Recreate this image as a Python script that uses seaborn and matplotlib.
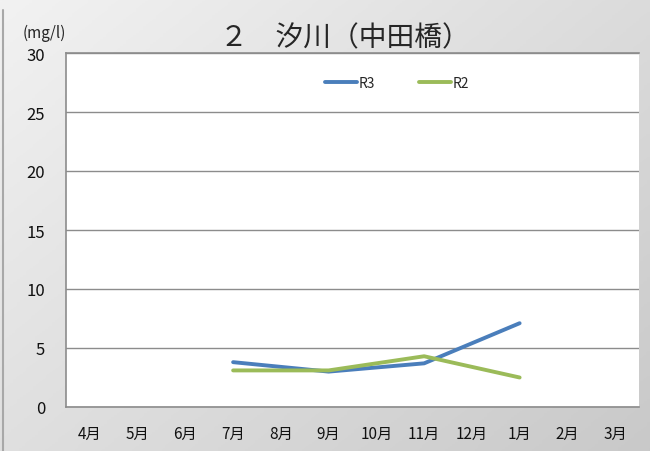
import numpy as np
import pandas as pd
import matplotlib
matplotlib.use("Agg")
import matplotlib.pyplot as plt
import seaborn as sns

# データ
months = ['4月', '5月', '6月', '7月', '8月', '9月', '10月', '11月', '12月', '1月', '2月', '3月']
obs_months = ['7月', '9月', '11月', '1月']
r3_vals = [3.8, 3.0, 3.7, 7.1]
r2_vals = [3.1, 3.1, 4.3, 2.5]
series_names = ['R3', 'R2']
series_colors = ['#4a7ebb', '#9bbb59']

title = '２　汐川（中田橋）'
unit = '(mg/l)'

sns.set_style("white")
plt.rcParams['font.family'] = ['Noto Sans CJK JP', 'DejaVu Sans']

rows = []
for name, vals in zip(series_names, [r3_vals, r2_vals]):
    for m, v in zip(obs_months, vals):
        rows.append({'月': months.index(m), '値': v, '系列': name})
df = pd.DataFrame(rows)

fig = plt.figure(figsize=(6.5, 4.52), dpi=100)

# 背景のグラデーション
bg = fig.add_axes([0, 0, 1, 1], zorder=-10)
gx, gy = np.meshgrid(np.linspace(0, 1, 200), np.linspace(0, 1, 200))
grad = 0.55 * gx + 0.45 * gy
bg.imshow(grad, cmap=matplotlib.colors.LinearSegmentedColormap.from_list('g', ['#f2f2f2', '#c9c9c9']),
          extent=[0, 1, 0, 1], aspect='auto', origin='upper')
bg.axvline(0.005, ymin=0, ymax=0.975, color='#a8a8a8', linewidth=1.5)
bg.set_xlim(0, 1)
bg.set_ylim(0, 1)
bg.axis('off')

ax = fig.add_axes([66 / 650, 1 - 408 / 452, (639 - 66) / 650, (408 - 54) / 452])
ax.set_facecolor('white')

sns.lineplot(data=df, x='月', y='値', hue='系列', hue_order=series_names,
             palette=series_colors, linewidth=2.8, ax=ax, sort=False)

ax.set_xlim(-0.5, 11.5)
ax.set_ylim(0, 30)
ax.set_yticks(range(0, 31, 5))
ax.set_xticks(range(len(months)))
ax.set_xticklabels(months)
ax.set_xlabel('')
ax.set_ylabel('')
ax.tick_params(axis='both', length=0, labelsize=11, colors='#111111')
ax.tick_params(axis='x', pad=13)
ax.tick_params(axis='y', pad=15)
for lbl in ax.get_yticklabels():
    lbl.set_fontsize(12)

ax.grid(axis='y', color='#8c8c8c', linewidth=1)
ax.grid(axis='x', visible=False)
for side in ['top', 'left', 'bottom']:
    ax.spines[side].set_visible(True)
    ax.spines[side].set_color('#8c8c8c')
    ax.spines[side].set_linewidth(1.2)
ax.spines['right'].set_visible(False)

leg = ax.legend(loc='upper left', bbox_to_anchor=(0.43, 0.97), ncol=2, frameon=False,
                fontsize=10, handlelength=2.3, handletextpad=0.1, columnspacing=3.2)

fig.text(345 / 650, 1 - 38 / 452, title, ha='center', va='center', fontsize=20)
fig.text(44 / 650, 1 - 33 / 452, unit, ha='center', va='center', fontsize=11)

fig.savefig('out.png', dpi=100)
